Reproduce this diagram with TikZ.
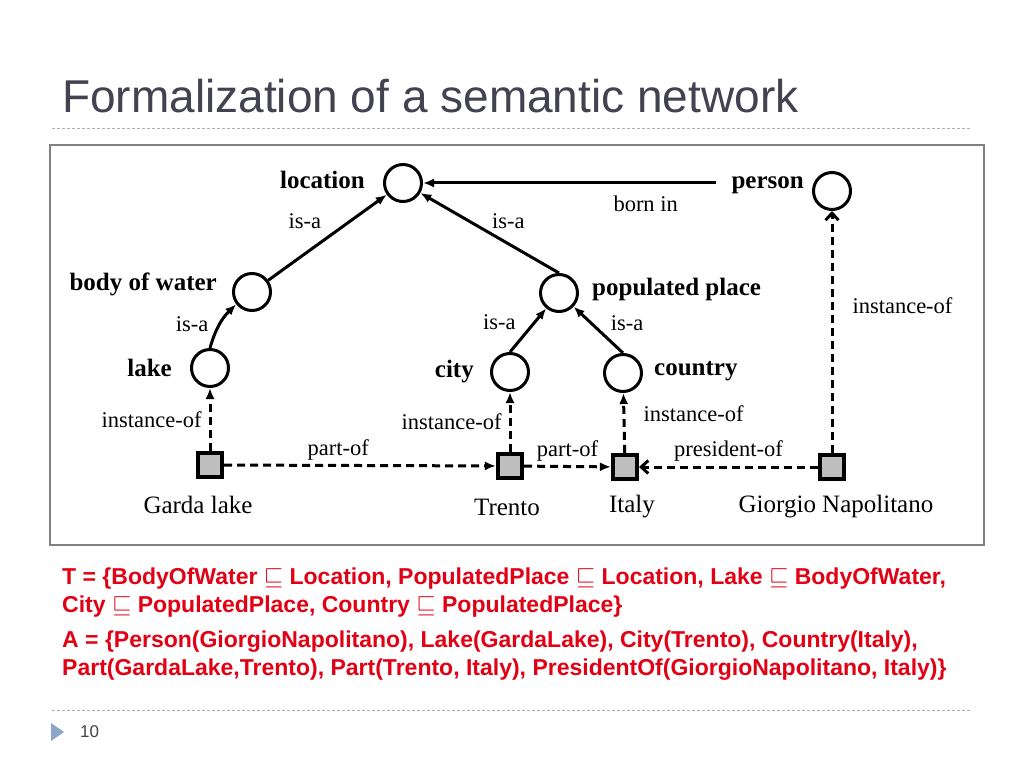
\documentclass[tikz,border=0pt]{standalone}
\usepackage{fontspec}
\setmainfont{Liberation Serif}
\newfontfamily\slidefont{Liberation Sans}
\usetikzlibrary{arrows.meta,positioning}

\definecolor{titlegray}{RGB}{66,66,80}
\definecolor{rulegray}{RGB}{170,175,185}
\definecolor{framegray}{RGB}{128,128,128}
\definecolor{boxgray}{RGB}{190,190,190}
\definecolor{bulletblue}{RGB}{140,165,200}
\definecolor{formred}{RGB}{226,0,20}

\tikzset{
  concept/.style={circle, draw, line width=3pt, minimum size=37pt, inner sep=0pt},
  individual/.style={rectangle, draw, fill=boxgray, line width=3.6pt, minimum size=24.5pt, inner sep=0pt},
  conname/.style={font=\fontsize{25}{27}\selectfont\bfseries, inner sep=0pt},
  indname/.style={font=\fontsize{25}{27}\selectfont, inner sep=0pt},
  edgelbl/.style={font=\fontsize{22.5}{24}\selectfont, inner sep=1pt},
  isa/.style={line width=3pt, -{Latex[length=11pt,width=9pt]}},
  inst/.style={line width=3pt, dash pattern=on 8pt off 5pt, -{Latex[length=11pt,width=9pt]}},
  instopen/.style={line width=3pt, dash pattern=on 8pt off 5pt, -{Straight Barb[length=7pt,width=13pt]}},
}

\begin{document}
\begin{tikzpicture}[x=1pt,y=-1pt]
\useasboundingbox (0,0) rectangle (1023,767);
\fill[white] (0,0) rectangle (1023,767);

% slide title and rules
\node[anchor=base west, inner sep=0pt, text=titlegray, font=\slidefont\fontsize{46}{50}\selectfont] (title) at (62,113) {Formalization of a semantic network};
\draw[rulegray, dash pattern=on 3pt off 2pt] (52,128) -- (970,128);
\draw[framegray, line width=2pt] (50,145) rectangle (984,545);

% concepts
\node[concept] (location) at (403,183) {};
\node[concept] (person) at (832,191) {};
\node[concept] (water) at (252,292) {};
\node[concept] (populated) at (559,293) {};
\node[concept] (lake) at (210,368) {};
\node[concept] (city) at (510,372) {};
\node[concept] (country) at (623,373) {};

\node[conname, left=18pt of location, yshift=3pt] (location-lbl) {location};
\node[conname, left=8pt of person, yshift=6pt] (person-lbl) {person};
\node[conname, left=15pt of water, yshift=8pt] (water-lbl) {body of water};
\node[conname, right=13pt of populated, yshift=4pt] (populated-lbl) {populated place};
\node[conname, left=18pt of lake] (lake-lbl) {lake};
\node[conname, left=16pt of city] (city-lbl) {city};
\node[conname, right=11pt of country, yshift=2pt] (country-lbl) {country};

% individuals
\node[individual] (garda) at (210,465) {};
\node[individual] (trento) at (510,466) {};
\node[individual] (italy) at (625,467) {};
\node[individual] (giorgio) at (832,467) {};

\node[indname] (garda-lbl) at (198,505) {Garda lake};
\node[indname] (trento-lbl) at (507,507) {Trento};
\node[indname] (italy-lbl) at (632,507) {Italy};
\node[indname] (giorgio-lbl) at (836,507) {Giorgio Napolitano};

% is-a links
\draw[isa] (water) -- node[edgelbl, above left=6pt and 4pt] {is-a} (location);
\draw[isa] (populated.north) -- node[edgelbl, above right=2pt and 0pt] {is-a} (location);
\draw[isa] (lake.north) to[bend left=15] node[edgelbl, left=9pt] {is-a} (water);
\draw[isa] (city.north) -- node[edgelbl, left=10pt, yshift=8pt] {is-a} (populated);
\draw[isa] (country.north) -- node[edgelbl, right=10pt, yshift=7pt] {is-a} (populated);

\coordinate (born-start) at (716,183);
\draw[isa] (born-start) -- node[edgelbl, pos=.24, below=10pt] {born in} (location);

% instance-of links
\draw[inst] (garda) -- node[edgelbl, left=6pt] {instance-of} (lake);
\draw[inst] (trento) -- node[edgelbl, left=6pt] {instance-of} (city);
\draw[inst] (italy) -- node[edgelbl, right=17pt, yshift=9pt] {instance-of} (country);
\draw[instopen] (giorgio) -- node[edgelbl, pos=.61, right=18pt] {instance-of} (person);

% relations between individuals
\draw[inst] (garda) -- node[edgelbl, pos=.42, above=3pt] {part-of} (trento);
\draw[inst] (trento) -- node[edgelbl, above=3pt] {part-of} (italy);
\draw[instopen] (giorgio) -- node[edgelbl, above=3pt] {president-of} (italy);

% formal description
\node[anchor=north west, inner sep=0pt, align=left, text=formred, font=\slidefont\bfseries\fontsize{23}{28}\selectfont] (tbox) at (62,568)
  {T = \{BodyOfWater $\sqsubseteq$ Location, PopulatedPlace $\sqsubseteq$ Location, Lake $\sqsubseteq$ BodyOfWater,\\
   City $\sqsubseteq$ PopulatedPlace, Country $\sqsubseteq$ PopulatedPlace\}};
\node[anchor=north west, inner sep=0pt, align=left, text=formred, font=\slidefont\bfseries\fontsize{23}{28}\selectfont] (abox) at (62,631)
  {A = \{Person(GiorgioNapolitano), Lake(GardaLake), City(Trento), Country(Italy),\\
   Part(GardaLake,Trento), Part(Trento, Italy), PresidentOf(GiorgioNapolitano, Italy)\}};

% footer
\draw[rulegray, dash pattern=on 3pt off 2pt] (52,710) -- (970,710);
\fill[bulletblue] (51,723) -- (64,732) -- (51,741) -- cycle;
\node[anchor=west, inner sep=0pt, text=titlegray, font=\slidefont\fontsize{17}{19}\selectfont] (pagenum) at (80,732) {10};
\end{tikzpicture}
\end{document}
